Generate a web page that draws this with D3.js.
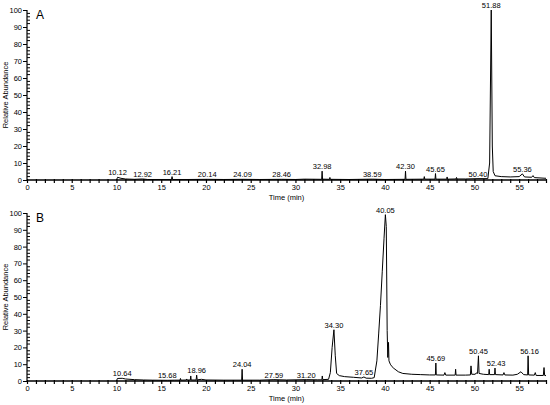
<!DOCTYPE html>
<html>
<head>
<meta charset="utf-8">
<script src="https://cdn.jsdelivr.net/npm/d3@7"></script>
<style>
  body { margin: 0; background: #fff; }
  svg { display: block; opacity: 0.999; }
  text { font-family: "Liberation Sans", Arial, sans-serif; fill: #000; }
</style>
</head>
<body>
<script>
var w = 550, h = 405;

// chromatogram A: [time (min), relative abundance]
var traceA = [
  [10.0,0],[10.12,1.6],[10.5,1.0],[11,0.6],[12,0.4],[12.92,0.6],[13.5,0.3],[15,0.3],
  [16.15,0.3],[16.21,2.0],[16.27,0.3],[18,0.3],[20.14,0.4],[22,0.3],[24.09,0.4],[26,0.3],
  [28.46,0.4],[30,0.3],[31,0.5],[32.93,0.4],[32.98,5.2],[33.03,0.5],[33.8,0.4],[33.85,1.5],
  [33.9,0.4],[36,0.3],[38.59,0.5],[40,0.3],[42.25,0.4],[42.30,5.2],[42.35,0.4],[44.35,0.5],
  [44.4,2.0],[44.45,0.5],[45.6,0.5],[45.65,3.8],[45.7,0.5],[46.9,0.5],[46.95,1.8],[47.0,0.5],
  [47.95,0.6],[48.0,1.5],[48.05,0.6],[49,0.6],[50.40,0.8],[51.5,0.8],[51.7,10],[51.88,100],
  [52.0,20],[52.1,5],[52.3,2.5],[53,2.0],[54,1.8],[55.0,2.0],[55.36,3.6],[55.6,1.8],
  [56.4,1.6],[56.55,2.6],[56.7,1.4],[58,1.0]
];
var peaksA = [
  [10.12,1.6],[12.92,0.6],[16.21,2.0],[20.14,0.4],[24.09,0.4],[28.46,0.4],[32.98,5.2],
  [38.59,0.5],[42.30,5.2],[45.65,3.8],[50.40,0.8],[51.88,100],[55.36,3.6]
];

// chromatogram B
var traceB = [
  [10.0,0],[10.1,1.5],[10.64,1.6],[11,1.2],[12,0.8],[13,0.6],[14,0.5],[15.68,0.4],
  [16.5,0.5],[17.1,0.5],[17.15,1.5],[17.2,0.5],[17.8,0.6],[17.85,1.2],[17.9,0.6],
  [18.25,0.6],[18.3,3.0],[18.35,0.6],[18.9,0.6],[18.96,3.5],[19.02,0.7],[19.5,1.0],
  [20,0.6],[22,0.5],[23.99,0.5],[24.04,7.0],[24.09,0.5],[26,0.5],[27.59,0.8],[29,0.6],
  [31.20,0.8],[32.5,0.7],[32.95,0.7],[33.0,3.0],[33.05,0.8],[33.7,1.0],[33.9,5],
  [34.1,20],[34.30,30.5],[34.45,15],[34.6,4.5],[34.9,3.2],[35.5,2.6],[36.5,2.2],
  [37.4,1.8],[37.65,2.4],[37.9,1.7],[38.5,1.6],[38.8,2.0],[39.1,12],[39.3,28],
  [39.5,45],[39.7,65],[39.9,85],[40.05,99],[40.15,92],[40.25,30],[40.32,14],[40.4,23],
  [40.45,12],[40.6,10],[40.8,8.5],[41,7.5],[41.5,5.5],[42,4.5],[43,4.0],[44,3.8],
  [45,3.6],[45.64,3.6],[45.69,10.7],[45.74,3.6],[46.6,3.5],[46.7,5.0],[46.8,3.5],
  [47.85,3.5],[47.9,7.0],[47.95,3.5],[49.0,3.5],[49.55,3.6],[49.62,9.0],[49.7,4.0],
  [50.1,4.0],[50.2,4.8],[50.35,4.5],[50.45,15],[50.52,4.5],[51.0,4.0],[51.6,3.8],
  [51.65,7.0],[51.7,3.8],[52.25,3.8],[52.3,7.7],[52.35,3.8],[53.2,3.6],[53.3,5.0],
  [53.4,3.6],[54.3,3.5],[54.8,4.0],[55.2,5.5],[55.5,3.8],[55.95,3.6],[56.0,15],
  [56.06,3.6],[56.7,3.5],[56.8,5.0],[56.9,3.3],[57.7,3.3],[57.78,8.0],[57.85,3.3],[58,3.2]
];
var peaksB = [
  [10.64,1.6],[15.68,0.4],[18.96,3.5],[24.04,7.0],[27.59,0.8],[31.20,0.8],[34.30,30.5],
  [37.65,2.4],[40.05,99],[45.69,10.7],[50.45,15],[52.43,7.7],[56.16,15]
];

var yTicks = d3.range(0, 101, 10);
var xLabel = "Time (min)";
var yLabel = "Relative Abundance";

var svg = d3.select("body").append("svg")
  .attr("width", w)
  .attr("height", h);

var x = d3.scaleLinear().domain([0, 58]).range([27, 546]);

function panel(trace, peaks, letter, y0, y1) {
  var y = d3.scaleLinear().domain([0, 100]).range([y0, y1]);
  var g = svg.append("g");

  // x axis: minor ticks every minute, labels every 5
  var xAxis = d3.axisBottom(x)
    .tickValues(d3.range(0, 59, 1))
    .tickSize(3)
    .tickFormat(d => d % 5 === 0 && d <= 55 ? d : "");
  var gx = g.append("g")
    .attr("transform", `translate(0,${y0})`)
    .attr("font-family", "Liberation Sans, Arial, sans-serif")
    .call(xAxis);
  gx.select(".domain").attr("stroke-width", 1.4).attr("d", `M27,0H546`);
  gx.selectAll(".tick line").attr("y1", -1).attr("stroke-width", 1.2);
  gx.selectAll(".tick text").attr("font-size", "7.5px").attr("dy", "0.85em").attr("y", 4);

  // y axis: major every 10, minor every 2
  var yAxis = d3.axisLeft(y)
    .tickValues(yTicks)
    .tickSize(4)
    .tickPadding(1);
  var gy = g.append("g")
    .attr("transform", "translate(27,0)")
    .attr("font-family", "Liberation Sans, Arial, sans-serif")
    .call(yAxis);
  gy.select(".domain").attr("stroke-width", 1.2).attr("d", `M0,${y0}V${y1}`);
  gy.selectAll(".tick text").attr("font-size", "7.5px");
  g.append("g").selectAll("line")
    .data(d3.range(0, 101, 2).filter(d => d % 10 !== 0))
    .join("line")
    .attr("x1", 27).attr("x2", 30)
    .attr("y1", d => y(d)).attr("y2", d => y(d))
    .attr("stroke", "#000");

  g.append("text")
    .attr("x", x(29))
    .attr("y", y0 + 20)
    .attr("text-anchor", "middle")
    .attr("font-size", "7.5px")
    .text(xLabel);

  g.append("text")
    .attr("transform", `translate(8,${(y0 + y1) / 2}) rotate(-90)`)
    .attr("text-anchor", "middle")
    .attr("font-size", "7.5px")
    .text(yLabel);

  g.append("text")
    .attr("x", 36)
    .attr("y", y1 + 9)
    .attr("font-family", "Liberation Serif, serif")
    .attr("font-size", "12px")
    .text(letter);

  var line = d3.line().x(d => x(d[0])).y(d => y(d[1]));
  g.append("path")
    .datum(trace)
    .attr("fill", "none")
    .attr("stroke", "#000")
    .attr("stroke-width", 1)
    .attr("stroke-linejoin", "round")
    .attr("d", line);

  g.selectAll(".peak")
    .data(peaks)
    .join("text")
    .attr("class", "peak")
    .attr("x", d => x(d[0]))
    .attr("y", d => y(d[1]) - 2)
    .attr("text-anchor", "middle")
    .attr("font-size", "7.5px")
    .text(d => d[0].toFixed(2));
}

panel(traceA, peaksA, "A", 180, 10);
panel(traceB, peaksB, "B", 381, 213);
</script>
</body>
</html>
